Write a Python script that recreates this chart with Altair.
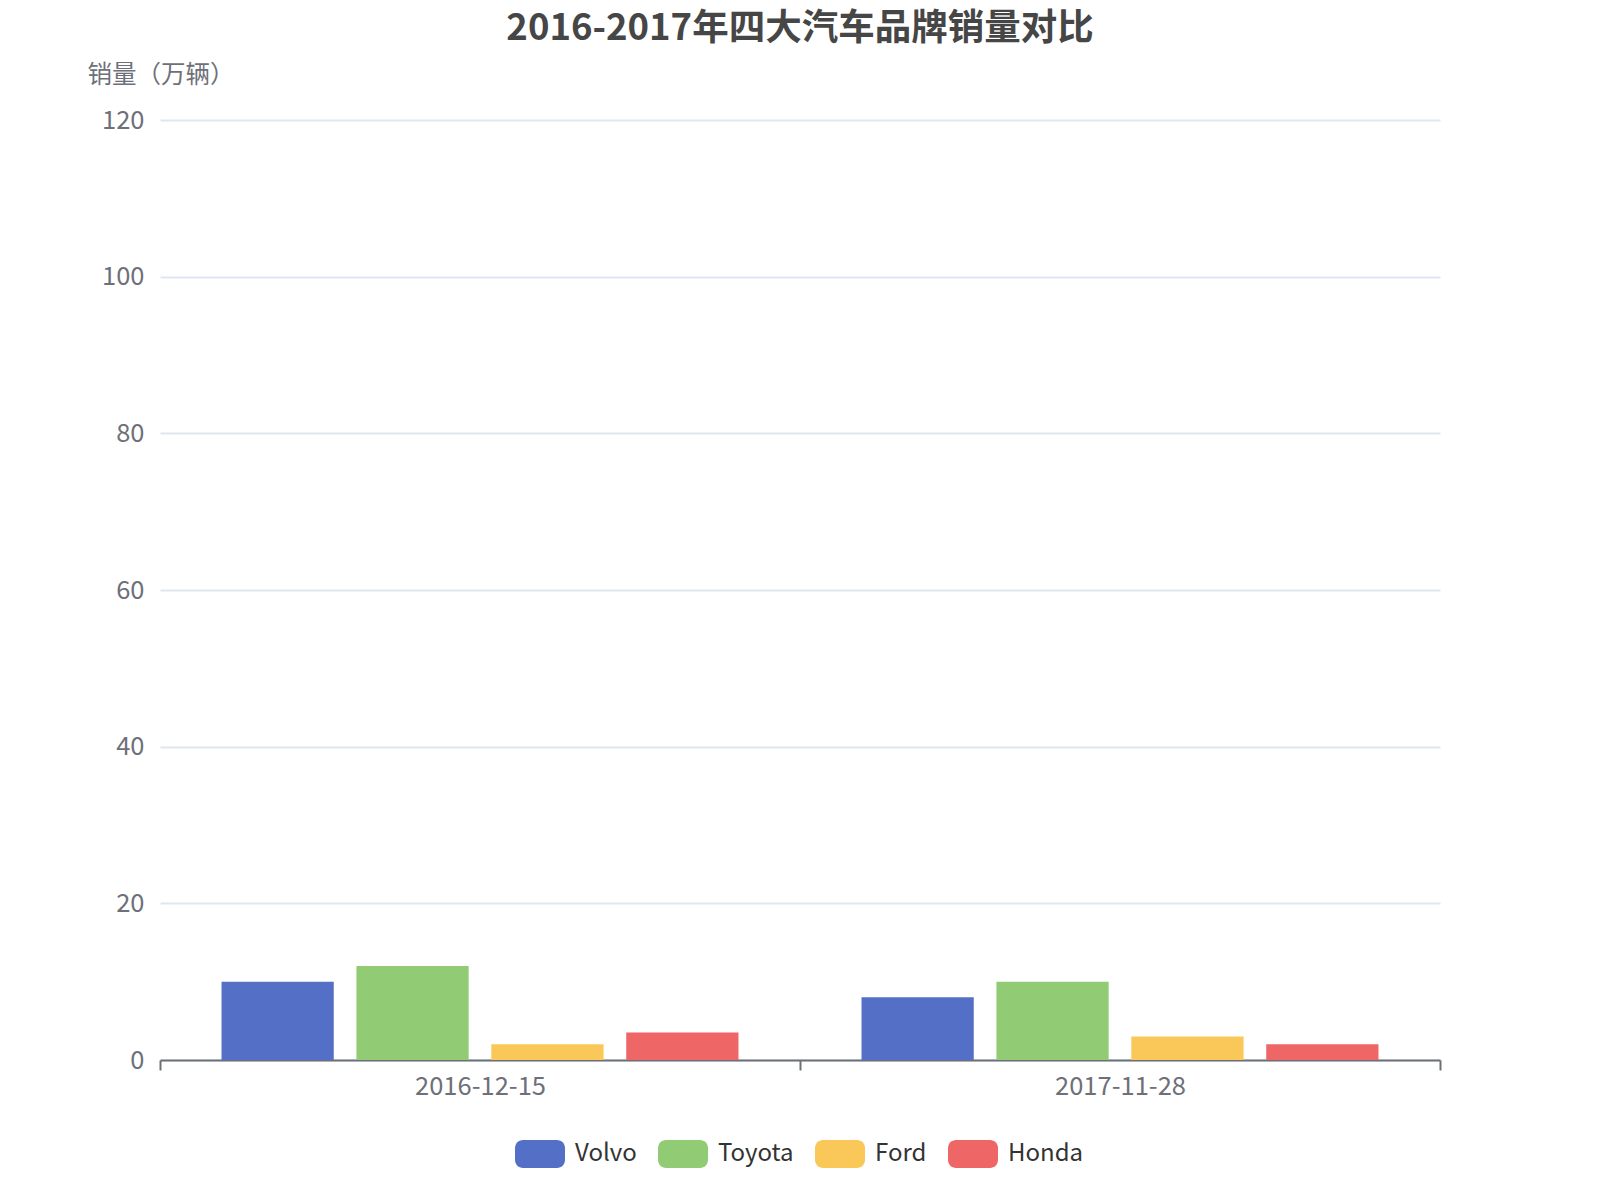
import altair as alt
import pandas as pd

dates = ["2016-12-15", "2017-11-28"]
brands = ["Volvo", "Toyota", "Ford", "Honda"]
sales_2016 = [10, 12, 2, 3.5]
sales_2017 = [8, 10, 3, 2]
colors = ["#5470c6", "#91cc75", "#fac858", "#ee6666"]
y_ticks = [0, 20, 40, 60, 80, 100, 120]

rows = []
for d, vals in zip(dates, [sales_2016, sales_2017]):
    for b, v in zip(brands, vals):
        rows.append({"date": d, "brand": b, "sales": v})
df = pd.DataFrame(rows)

font = "Noto Sans CJK SC"
legend_shape = ("M-0.68,-0.56L0.68,-0.56A0.32,0.32 0 0 1 1,-0.24L1,0.24"
                "A0.32,0.32 0 0 1 0.68,0.56L-0.68,0.56A0.32,0.32 0 0 1 -1,0.24"
                "L-1,-0.24A0.32,0.32 0 0 1 -0.68,-0.56Z")

chart = alt.Chart(df).mark_bar().encode(
    x=alt.X("date:N", sort=dates,
            scale=alt.Scale(paddingInner=0, paddingOuter=0),
            axis=alt.Axis(title=None, labelAngle=0, labelFont=font, labelFontSize=25.5,
                          labelColor="#6E7079", domainColor="#6E7079", domainWidth=2,
                          tickColor="#6E7079", tickWidth=2, tickSize=10, tickBand="extent",
                          labelPadding=4, grid=False)),
    xOffset=alt.XOffset("brand:N", sort=brands,
                        scale=alt.Scale(paddingInner=0.168, paddingOuter=0.456)),
    y=alt.Y("sales:Q", scale=alt.Scale(domain=[0, 120], nice=False),
            axis=alt.Axis(values=y_ticks, title="销量（万辆）", titleAngle=0, titleX=-73,
                          titleY=-45, titleAlign="left", titleBaseline="middle",
                          titleFont=font, titleFontSize=24.5, titleFontWeight="normal",
                          titleColor="#6E7079", labelFont=font, labelFontSize=25.5,
                          labelColor="#6E7079", labelPadding=16, ticks=False, domain=False,
                          gridColor="#E0E6F1", gridWidth=2)),
    color=alt.Color("brand:N", sort=brands,
                    scale=alt.Scale(domain=brands, range=colors),
                    legend=alt.Legend(title=None, orient="none", legendX=355, legendY=1009,
                                      direction="horizontal", columns=4,
                                      symbolType=legend_shape, symbolSize=2500,
                                      symbolStrokeWidth=0, symbolOpacity=1,
                                      labelFont=font, labelFontSize=24, labelColor="#333333",
                                      labelOffset=10, columnPadding=21)),
).properties(
    width=1280, height=940,
    title=alt.TitleParams(text="2016-2017年四大汽车品牌销量对比", font=font, fontSize=36.5,
                          fontWeight="bold", color="#464646", anchor="middle", offset=15),
    padding={"left": 152, "top": 112, "right": 152, "bottom": 132},
    autosize="none",
).configure_view(stroke=None)

chart.save("out.html", embed_options={"renderer": "svg", "actions": False})
